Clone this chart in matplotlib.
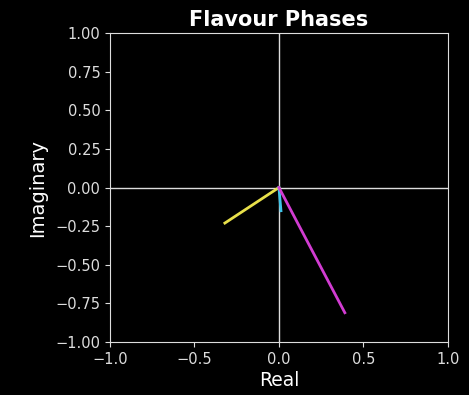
import matplotlib
matplotlib.use("Agg")
import matplotlib.pyplot as plt

# end points of each flavour phasor (real, imaginary)
flavours = ["yellow", "cyan", "magenta"]
real_parts = [-0.32, 0.012, 0.39]
imag_parts = [-0.23, -0.15, -0.81]
colours = ["#e8e04a", "#3fc4e8", "#d23cd2"]

plt.style.use("dark_background")
fig = plt.figure(figsize=(4.69, 3.95), dpi=100)
ax = fig.add_axes([0.2345, 0.134, 0.7205, 0.7825])

ax.axhline(0, color="#dddddd", lw=1)
ax.axvline(0, color="#dddddd", lw=1)

for re, im, c in zip(real_parts, imag_parts, colours):
    ax.plot([0, re], [0, im], color=c, lw=2)

ax.set_xlim(-1, 1)
ax.set_ylim(-1, 1)
ax.set_xticks([-1.0, -0.5, 0.0, 0.5, 1.0])
ax.set_yticks([-1.0, -0.75, -0.5, -0.25, 0.0, 0.25, 0.5, 0.75, 1.0])
ax.tick_params(labelsize=10.5, colors="#dddddd")
for s in ax.spines.values():
    s.set_color("#dddddd")

ax.set_title("Flavour Phases", fontsize=15, fontweight="bold", pad=5)
ax.set_xlabel("Real", fontsize=13.5, labelpad=3)
ax.set_ylabel("Imaginary", fontsize=14, labelpad=6)

fig.savefig("out.png", dpi=100, facecolor="black")
